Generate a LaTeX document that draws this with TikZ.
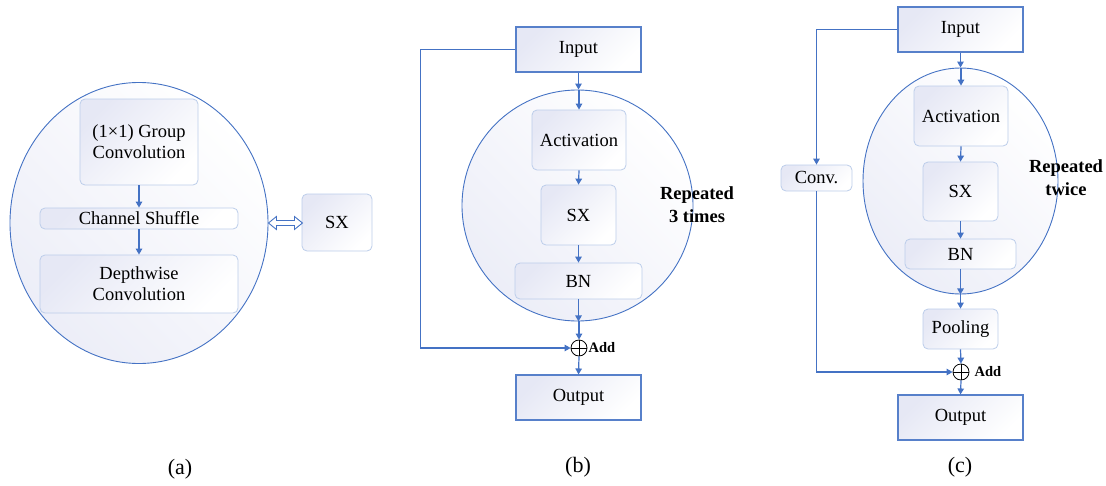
\documentclass[tikz,border=0pt]{standalone}
\usepackage{fontspec}
\setmainfont{Liberation Serif}
\usetikzlibrary{shapes.geometric,arrows.meta,calc}

\definecolor{lineblue}{HTML}{4472C4}
\definecolor{softline}{HTML}{BCCDEA}
\definecolor{tint}{RGB}{230,232,245}

\tikzset{
  lbl/.style={font=\fontsize{18.5}{21}\selectfont, align=center, inner sep=1pt},
  softbox/.style={lbl, draw=softline, line width=0.8pt, rounded corners=5pt,
    top color=tint, bottom color=white, shading angle=45},
  iobox/.style={lbl, draw=lineblue!90, line width=1.1pt,
    top color=tint, bottom color=white, shading angle=45},
  blob/.style={ellipse, draw=lineblue, line width=0.9pt, inner sep=0pt,
    top color=white, bottom color=tint!75, shading angle=-45},
  flow/.style={draw=lineblue, line width=1.2pt, -{Triangle[length=6pt,width=6.5pt]}},
  adder/.style={circle, draw=black, line width=0.8pt, minimum size=16pt, inner sep=0pt,
    path picture={\draw[line width=0.8pt] (path picture bounding box.north) -- (path picture bounding box.south)
      (path picture bounding box.west) -- (path picture bounding box.east);}},
  addlbl/.style={font=\bfseries\fontsize{14.5}{16}\selectfont, anchor=west, inner sep=1pt},
  reptxt/.style={font=\bfseries\fontsize{18.5}{23}\selectfont, align=center},
  caption/.style={font=\fontsize{22}{24}\selectfont}
}

\begin{document}
\begin{tikzpicture}[x=1pt,y=-1pt]
\useasboundingbox (0,0) rectangle (1106,485);

% ---------- (a) ShuffleNet unit used as SX ----------
\node[blob, minimum width=258, minimum height=281] (ea) at (139,223) {};
\node[softbox, minimum width=118, minimum height=86] (gc) at (139,142) {(1×1) Group\\Convolution};
\node[softbox, minimum width=198, minimum height=21] (cs) at (139,218.5) {Channel Shuffle};
\node[softbox, minimum width=198, minimum height=58] (dw) at (139,284) {Depthwise\\Convolution};
\node[softbox, minimum width=70, minimum height=57] (sxa) at (337,222.5) {SX};
\draw[flow] (gc.south) -- (cs.north);
\draw[flow] (cs.south) -- (dw.north);
% hollow two-headed arrow between the unit and SX
\coordinate (da) at (ea.east);
\draw[lineblue, line width=0.9pt, fill=white]
  (da) -- ++(8,-6.5) -- ++(0,4) -- ++(18,0) -- ++(0,-4) -- ++(8,6.5)
  -- ++(-8,6.5) -- ++(0,-4) -- ++(-18,0) -- ++(0,4) -- cycle;
\node[caption] (capa) at (180,469) {(a)};

% ---------- (b) residual block, repeated 3 times ----------
\node[iobox, minimum width=125, minimum height=45] (inb) at (578.5,49.5) {Input};
\node[blob, minimum width=231, minimum height=231] (eb) at (577.5,205.5) {};
\node[softbox, minimum width=94, minimum height=60] (actb) at (579,140) {Activation};
\node[softbox, minimum width=75, minimum height=60] (sxb) at (578.5,215) {SX};
\node[softbox, minimum width=127, minimum height=36] (bnb) at (578.5,281) {BN};
\node[adder] (addb) at (579,348) {};
\node[addlbl] (addbl) at (addb.east) {Add};
\node[iobox, minimum width=125, minimum height=45] (outb) at (578.5,397.5) {Output};
\node[reptxt] (repb) at (697,205) {Repeated\\3 times};
\draw[flow] (inb.south) -- (inb.south |- eb.north);
\draw[flow] (actb.north |- eb.north) -- (actb.north);
\draw[flow] (actb.south) -- (sxb.north);
\draw[flow] (sxb.south) -- (bnb.north);
\draw[flow] (bnb.south) -- (bnb.south |- eb.south);
\draw[flow] (addb.north |- eb.south) -- (addb.north);
\draw[flow] (addb.south) -- (outb.north);
\draw[flow] (inb.west) -- ++(-95,0) |- (addb.west);
\node[caption] (capb) at (578,467) {(b)};

% ---------- (c) downsampling block, repeated twice ----------
\node[iobox, minimum width=125, minimum height=45] (inc) at (960.5,29.5) {Input};
\node[blob, minimum width=195, minimum height=226] (ec) at (960.5,181) {};
\node[softbox, minimum width=94, minimum height=60] (actc) at (961,116) {Activation};
\node[softbox, minimum width=75, minimum height=59] (sxc) at (960.5,191.5) {SX};
\node[softbox, minimum width=111, minimum height=30] (bnc) at (960.5,254) {BN};
\node[softbox, minimum width=75, minimum height=40] (poolc) at (960.5,329) {Pooling};
\node[adder] (addc) at (961,372) {};
\node[addlbl] (addcl) at ([xshift=4pt]addc.east) {Add};
\node[iobox, minimum width=125, minimum height=45] (outc) at (960.5,417.5) {Output};
\node[softbox, minimum width=71, minimum height=26] (convc) at (816.5,178) {Conv.};
\node[reptxt] (repc) at (1066,178) {Repeated\\twice};
\draw[flow] (inc.south) -- (inc.south |- ec.north);
\draw[flow] (actc.north |- ec.north) -- (actc.north);
\draw[flow] (actc.south) -- (sxc.north);
\draw[flow] (sxc.south) -- (bnc.north);
\draw[flow] (bnc.south) -- (bnc.south |- ec.south);
\draw[flow] (poolc.north |- ec.south) -- (poolc.north);
\draw[flow] (poolc.south) -- (addc.north);
\draw[flow] (addc.south) -- (outc.north);
\draw[flow] (inc.west) -| (convc.north);
\draw[flow] (convc.south) |- (addc.west);
\node[caption] (capc) at (960,467) {(c)};
\end{tikzpicture}
\end{document}
